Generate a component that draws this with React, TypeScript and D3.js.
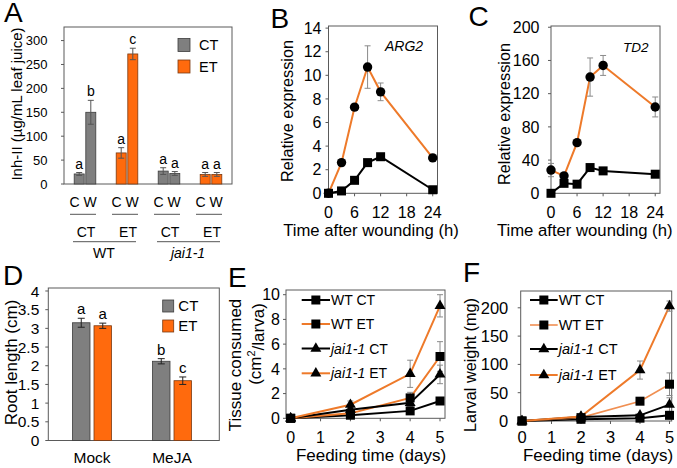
import React from 'react';
import * as d3 from 'd3';

const FONT = "Arial, 'Liberation Sans', Helvetica, sans-serif";
const ORANGE = '#ee7a2a';
const ORANGE_LIGHT = '#f08f52';
const BAR_ORANGE = '#ff6a0d';
const BAR_GRAY = '#7f7f7f';
const FRAME = '#5a5a5a';
const ERR = '#8a8a8a';

// ---------- Panel A ----------
const aGroups = ['WT CT', 'WT ET', 'jai1-1 CT', 'jai1-1 ET'];
const aLineLabels = ['CT', 'ET', 'CT', 'ET'];
const aGenotypes = ['WT', 'jai1-1'];
const aControl = [21, 65, 27, 20];
const aControlErr = [3, 11, 7, 4];
const aWounded = [150, 272, 22, 20];
const aWoundedErr = [25, 12, 4, 4];
const aControlLetters = ['a', 'a', 'a', 'a'];
const aWoundedLetters = ['b', 'c', 'a', 'a'];
const aTicks = [0, 50, 100, 150, 200, 250, 300];

// ---------- Panels B, C ----------
const hours = [0, 3, 6, 9, 12, 24];
const hourTicks = [0, 6, 12, 18, 24];
const arg2ET = [0, 2.6, 7.3, 10.7, 8.6, 3.0];
const arg2ETErr = [0, 0, 0, 1.8, 0.75, 0];
const arg2CT = [0, 0.2, 1.1, 2.6, 3.1, 0.3];
const arg2CTErr = [0, 0, 0, 0, 0, 0];
const arg2Ticks = [0, 2, 4, 6, 8, 10, 12, 14];
const td2ET = [28, 21, 61, 140, 154, 104];
const td2ETErr = [8, 0, 0, 23, 12, 12];
const td2CT = [0, 12, 11, 31, 27, 23];
const td2CTErr = [0, 0, 0, 0, 0, 0];
const td2Ticks = [0, 40, 80, 120, 160, 200];

// ---------- Panel D ----------
const dTreatments = ['Mock', 'MeJA'];
const dCT = [3.15, 2.12];
const dCTErr = [0.12, 0.07];
const dET = [3.07, 1.6];
const dETErr = [0.07, 0.1];
const dCTLetters = ['a', 'b'];
const dETLetters = ['a', 'c'];
const dTicks = [0, 0.5, 1, 1.5, 2, 2.5, 3, 3.5, 4];

// ---------- Panels E, F ----------
const days = [0, 2, 4, 5];
const dayTicks = [0, 1, 2, 3, 4, 5];
const eWTCT = [0, 0.25, 0.6, 1.4];
const eWTCTErr = [0, 0.05, 0.1, 0.15];
const eWTET = [0, 0.4, 1.65, 5.0];
const eWTETErr = [0, 0.1, 0.45, 1.2];
const eJaiCT = [0, 0.7, 1.25, 3.55];
const eJaiCTErr = [0, 0.2, 0.3, 0.75];
const eJaiET = [0, 1.1, 3.6, 9.1];
const eJaiETErr = [0, 0.3, 1.1, 0.9];
const eTicks = [0, 2, 4, 6, 8, 10];
const fWTCT = [0, 3, 5, 10];
const fWTCTErr = [0, 1, 2, 5];
const fWTET = [0, 6, 35, 65];
const fWTETErr = [0, 2, 5, 20];
const fJaiCT = [0, 7, 10, 29];
const fJaiCTErr = [0, 2, 3, 12];
const fJaiET = [0, 8, 90, 203];
const fJaiETErr = [0, 3, 16, 9];
const fTicks = [0, 50, 100, 150, 200];
const legendNames = ['WT CT', 'WT ET', 'jai1-1 CT', 'jai1-1 ET'];

type Box = { l: number; r: number; t: number; b: number };
type Kind = 'circle' | 'square' | 'triangle';
type Series = { ys: number[]; errs: number[]; color: string; kind: Kind; width: number };

function symbolPath(kind: Kind): string {
  if (kind === 'circle') return d3.symbol(d3.symbolCircle, Math.PI * 4.7 * 4.7)() as string;
  if (kind === 'square') return d3.symbol(d3.symbolSquare, 9 * 9)() as string;
  return d3.symbol(d3.symbolTriangle, 52)() as string;
}

function Frame({ box }: { box: Box }) {
  return (
    <rect x={box.l} y={box.t} width={box.r - box.l} height={box.b - box.t}
      fill="none" stroke={FRAME} strokeWidth={1} />
  );
}

function YAxis({ box, y, ticks, gap, fontSize, fmt }: any) {
  return (
    <g>
      {ticks.map((v: number) => (
        <g key={v}>
          <line x1={box.l - 3} x2={box.l} y1={y(v)} y2={y(v)} stroke={FRAME} strokeWidth={1} />
          <text x={box.l - gap} y={y(v)} dy="0.36em" textAnchor="end" fontSize={fontSize}>
            {fmt ? fmt(v) : String(v)}
          </text>
        </g>
      ))}
    </g>
  );
}

function RotTitle({ cx, cy, fontSize, children }: any) {
  return (
    <text transform={`translate(${cx},${cy}) rotate(-90)`} dy="0.35em" textAnchor="middle" fontSize={fontSize}>
      {children}
    </text>
  );
}

function LinePanel({ box, xDomain, yDomain, xs, xTicks, yTicks, series, tickFont, tickGap, xLabelY }: any) {
  const x = d3.scaleLinear().domain(xDomain).range([box.l, box.r]);
  const y = d3.scaleLinear().domain(yDomain).range([box.b, box.t]);
  const line = d3.line<number>().x((_, i) => x(xs[i])).y((d) => y(d));
  return (
    <g>
      <Frame box={box} />
      <YAxis box={box} y={y} ticks={yTicks} gap={tickGap} fontSize={tickFont} />
      {xTicks.map((v: number) => (
        <g key={v}>
          <line x1={x(v)} x2={x(v)} y1={box.b} y2={box.b + 3} stroke={FRAME} strokeWidth={1} />
          <text x={x(v)} y={xLabelY} textAnchor="middle" fontSize={tickFont}>{v}</text>
        </g>
      ))}
      {series.map((s: Series, k: number) => (
        <path key={'l' + k} d={line(s.ys) as string} fill="none" stroke={s.color} strokeWidth={s.width} />
      ))}
      {series.map((s: Series, k: number) => (
        <g key={'e' + k}>
          {s.ys.map((v, i) => s.errs[i] > 0 ? (
            <g key={i} stroke={ERR} strokeWidth={1}>
              <line x1={x(xs[i])} x2={x(xs[i])} y1={y(v - s.errs[i])} y2={y(v + s.errs[i])} />
              <line x1={x(xs[i]) - 3} x2={x(xs[i]) + 3} y1={y(v - s.errs[i])} y2={y(v - s.errs[i])} />
              <line x1={x(xs[i]) - 3} x2={x(xs[i]) + 3} y1={y(v + s.errs[i])} y2={y(v + s.errs[i])} />
            </g>
          ) : null)}
        </g>
      ))}
      {series.map((s: Series, k: number) => (
        <g key={'m' + k}>
          {s.ys.map((v, i) => (
            <path key={i} d={symbolPath(s.kind)} transform={`translate(${x(xs[i])},${y(v)})`} fill="#000" />
          ))}
        </g>
      ))}
    </g>
  );
}

function Legend({ x0, x1, rows, series, fontSize }: any) {
  return (
    <g>
      {series.map((s: Series, i: number) => (
        <g key={i}>
          <line x1={x0} x2={x1} y1={rows[i]} y2={rows[i]} stroke={s.color} strokeWidth={s.width} />
          <path d={symbolPath(s.kind)} transform={`translate(${(x0 + x1) / 2},${rows[i]})`} fill="#000" />
          <text x={x1 + 1} y={rows[i]} dy="0.36em" fontSize={fontSize}>
            {legendNames[i].startsWith('jai') ? (
              <><tspan fontStyle="italic">jai1-1</tspan>{legendNames[i].slice(6)}</>
            ) : legendNames[i]}
          </text>
        </g>
      ))}
    </g>
  );
}

function ErrBar({ cx, y0, y1, color, cap }: any) {
  return (
    <g stroke={color} strokeWidth={1}>
      <line x1={cx} x2={cx} y1={y0} y2={y1} />
      <line x1={cx - cap} x2={cx + cap} y1={y0} y2={y0} />
      <line x1={cx - cap} x2={cx + cap} y1={y1} y2={y1} />
    </g>
  );
}

function PanelA() {
  const box: Box = { l: 64, r: 232, t: 27, b: 184 };
  const y = d3.scaleLinear().domain([0, 328.4]).range([box.b, box.t]);
  const xb = d3.scaleBand<string>().domain(aGroups).range([box.l, box.r]);
  const bw = 10;
  const fills = aLineLabels.map((l) => (l === 'CT' ? BAR_GRAY : BAR_ORANGE));
  const strokes = aLineLabels.map((l) => (l === 'CT' ? '#3c3c3c' : '#7a3a12'));
  const center = (g: string) => (xb(g) as number) + xb.bandwidth() / 2;
  return (
    <g>
      <Frame box={box} />
      <YAxis box={box} y={y} ticks={aTicks} gap={16.5} fontSize={13} />
      {aGroups.map((g, i) => {
        const c = center(g);
        const bars = [
          { x: c - bw - 0.8, v: aControl[i], e: aControlErr[i], t: aControlLetters[i] },
          { x: c + 0.8, v: aWounded[i], e: aWoundedErr[i], t: aWoundedLetters[i] },
        ];
        return (
          <g key={g}>
            {bars.map((b, j) => (
              <g key={j}>
                <rect x={b.x} y={y(b.v)} width={bw} height={box.b - y(b.v)} fill={fills[i]} stroke={strokes[i]} strokeWidth={0.8} />
                <ErrBar cx={b.x + bw / 2} y0={y(b.v - b.e)} y1={y(b.v + b.e)} color="#555" cap={3} />
                <text x={b.x + bw / 2} y={y(b.v + b.e) - 4} textAnchor="middle" fontSize={14}>{b.t}</text>
              </g>
            ))}
            <text x={c - 2} y={206.5} textAnchor="middle" fontSize={14}>C W</text>
            <line x1={c - 15} x2={c + 11} y1={214.3} y2={214.3} stroke="#555" strokeWidth={1} />
            <text x={c + 1} y={236.5} textAnchor="middle" fontSize={14}>{aLineLabels[i]}</text>
          </g>
        );
      })}
      {aGenotypes.map((gt, k) => {
        const c1 = center(aGroups[k * 2]);
        const c2 = center(aGroups[k * 2 + 1]);
        return (
          <g key={gt}>
            <line x1={c1 - 12} x2={c2 + 9} y1={241.7} y2={241.7} stroke="#555" strokeWidth={1} />
            <text x={(c1 + c2) / 2 - 2} y={258} textAnchor="middle" fontSize={14} fontStyle={k === 1 ? 'italic' : 'normal'}>{gt}</text>
          </g>
        );
      })}
      <rect x={178} y={38.5} width={12} height={13} fill={BAR_GRAY} stroke="#3c3c3c" strokeWidth={0.8} />
      <text x={199} y={45} dy="0.36em" fontSize={14.5}>CT</text>
      <rect x={178} y={60} width={12} height={13} fill={BAR_ORANGE} stroke="#7a3a12" strokeWidth={0.8} />
      <text x={199} y={66.5} dy="0.36em" fontSize={14.5}>ET</text>
      <RotTitle cx={17} cy={104} fontSize={15}>Inh-II (µg/mL leaf juice)</RotTitle>
    </g>
  );
}

function PanelD() {
  const box: Box = { l: 48.3, r: 219.3, t: 288, b: 440.5 };
  const y = d3.scaleLinear().domain([0, 4.08]).range([box.b, box.t]);
  const xb = d3.scaleBand<string>().domain(dTreatments).range([52, 212]);
  const bw = 17.5;
  return (
    <g>
      <Frame box={box} />
      <YAxis box={box} y={y} ticks={dTicks} gap={9} fontSize={15.5} />
      {dTreatments.map((t, i) => {
        const c = (xb(t) as number) + xb.bandwidth() / 2;
        const bars = [
          { x: c - bw - 2, v: dCT[i], e: dCTErr[i], l: dCTLetters[i], f: BAR_GRAY, s: '#3c3c3c' },
          { x: c + 2, v: dET[i], e: dETErr[i], l: dETLetters[i], f: BAR_ORANGE, s: '#7a3a12' },
        ];
        return (
          <g key={t}>
            {bars.map((b, j) => (
              <g key={j}>
                <rect x={b.x} y={y(b.v)} width={bw} height={box.b - y(b.v)} fill={b.f} stroke={b.s} strokeWidth={0.8} />
                <ErrBar cx={b.x + bw / 2} y0={y(b.v - b.e)} y1={y(b.v + b.e)} color="#222" cap={3.5} />
                <text x={b.x + bw / 2} y={y(b.v + b.e) - 4} textAnchor="middle" fontSize={15}>{b.l}</text>
              </g>
            ))}
            <text x={c} y={463} textAnchor="middle" fontSize={15.5}>{t}</text>
          </g>
        );
      })}
      <rect x={162.7} y={300} width={11} height={12} fill={BAR_GRAY} stroke="#3c3c3c" strokeWidth={0.8} />
      <text x={178.3} y={306} dy="0.36em" fontSize={15}>CT</text>
      <rect x={162.7} y={320} width={11} height={12} fill={BAR_ORANGE} stroke="#7a3a12" strokeWidth={0.8} />
      <text x={178.3} y={326} dy="0.36em" fontSize={15}>ET</text>
      <RotTitle cx={11} cy={362.5} fontSize={17}>Root length (cm)</RotTitle>
    </g>
  );
}

export default function App() {
  const bSeries: Series[] = [
    { ys: arg2ET, errs: arg2ETErr, color: ORANGE, kind: 'circle', width: 2 },
    { ys: arg2CT, errs: arg2CTErr, color: '#000', kind: 'square', width: 2 },
  ];
  const cSeries: Series[] = [
    { ys: td2ET, errs: td2ETErr, color: ORANGE, kind: 'circle', width: 2 },
    { ys: td2CT, errs: td2CTErr, color: '#000', kind: 'square', width: 2 },
  ];
  const eSeries: Series[] = [
    { ys: eWTCT, errs: eWTCTErr, color: '#000', kind: 'square', width: 2 },
    { ys: eWTET, errs: eWTETErr, color: ORANGE, kind: 'square', width: 2 },
    { ys: eJaiCT, errs: eJaiCTErr, color: '#000', kind: 'triangle', width: 2 },
    { ys: eJaiET, errs: eJaiETErr, color: ORANGE, kind: 'triangle', width: 2 },
  ];
  const fSeries: Series[] = [
    { ys: fWTCT, errs: fWTCTErr, color: '#000', kind: 'square', width: 2 },
    { ys: fWTET, errs: fWTETErr, color: ORANGE_LIGHT, kind: 'square', width: 1.6 },
    { ys: fJaiCT, errs: fJaiCTErr, color: '#000', kind: 'triangle', width: 2 },
    { ys: fJaiET, errs: fJaiETErr, color: ORANGE, kind: 'triangle', width: 2 },
  ];
  const bBox: Box = { l: 328.5, r: 437.5, t: 26, b: 193.3 };
  const cBox: Box = { l: 551, r: 660, t: 26, b: 193.3 };
  const eBox: Box = { l: 286, r: 445, t: 290, b: 418.3 };
  const fBox: Box = { l: 520.7, r: 671.7, t: 291, b: 421 };
  return (
    <svg width={677} height={468} style={{ position: 'absolute', left: 0, top: 0 }} fontFamily={FONT}>
      <rect width={677} height={468} fill="#fff" />
      <PanelA />
      <LinePanel box={bBox} xDomain={[0, 25.1]} yDomain={[0, 14.18]} xs={hours} xTicks={hourTicks}
        yTicks={arg2Ticks} series={bSeries} tickFont={16} tickGap={7} xLabelY={217.5} />
      <text x={385} y={51} fontSize={14} fontStyle="italic">ARG2</text>
      <RotTitle cx={287} cy={111} fontSize={16.3}>Relative expression</RotTitle>
      <text x={371} y={236} textAnchor="middle" fontSize={16.7}>Time after wounding (h)</text>

      <LinePanel box={cBox} xDomain={[0, 25.1]} yDomain={[0, 201.5]} xs={hours} xTicks={hourTicks}
        yTicks={td2Ticks} series={cSeries} tickFont={16} tickGap={11.5} xLabelY={217.5} />
      <text x={623} y={52} fontSize={13.5} fontStyle="italic">TD2</text>
      <RotTitle cx={504} cy={114} fontSize={16.3}>Relative expression</RotTitle>
      <text x={584.7} y={236} textAnchor="middle" fontSize={16.7}>Time after wounding (h)</text>

      <PanelD />

      <LinePanel box={eBox} xDomain={[-0.157, 5.167]} yDomain={[0, 10.38]} xs={days} xTicks={dayTicks}
        yTicks={eTicks} series={eSeries} tickFont={16} tickGap={6} xLabelY={442.5} />
      <Legend x0={301.7} x1={330} rows={[300, 324, 348.5, 373.3]} series={eSeries} fontSize={14} />
      <RotTitle cx={235} cy={365} fontSize={17}>Tissue consumed</RotTitle>
      <text transform="translate(254.7,344) rotate(-90)" dy="0.35em" textAnchor="middle" fontSize={17}>
        (cm<tspan fontSize={11} dy="-0.5em">2</tspan><tspan dy="0.5em">/larva)</tspan>
      </text>
      <text x={371} y={461} textAnchor="middle" fontSize={17}>Feeding time (days)</text>

      <LinePanel box={fBox} xDomain={[-0.044, 5.075]} yDomain={[0, 229.7]} xs={days} xTicks={dayTicks}
        yTicks={fTicks} series={fSeries} tickFont={16.5} tickGap={12.4} xLabelY={442.5} />
      <Legend x0={530} x1={557.7} rows={[300, 325, 349, 375]} series={fSeries} fontSize={14.5} />
      <RotTitle cx={470} cy={365} fontSize={16.3}>Larval weight (mg)</RotTitle>
      <text x={598} y={461} textAnchor="middle" fontSize={17}>Feeding time (days)</text>

      <text x={4} y={22} fontSize={28}>A</text>
      <text x={270.5} y={28.3} fontSize={28}>B</text>
      <text x={468.5} y={26.3} fontSize={28}>C</text>
      <text x={3} y={285} fontSize={28}>D</text>
      <text x={228} y={286.7} fontSize={28}>E</text>
      <text x={463} y={281.7} fontSize={28}>F</text>
    </svg>
  );
}
